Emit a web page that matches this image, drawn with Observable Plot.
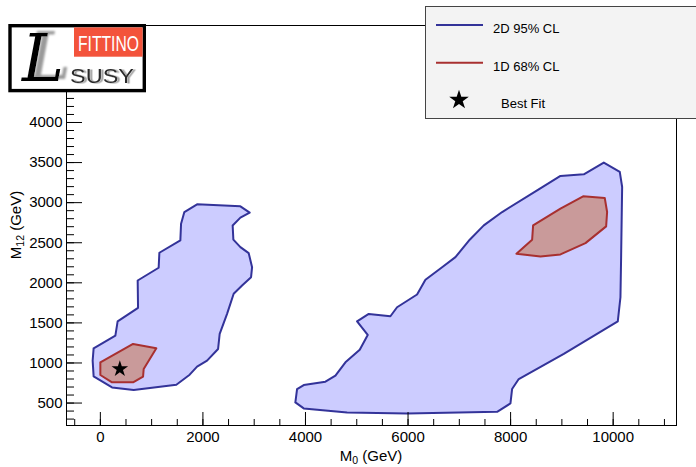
<!DOCTYPE html>
<html>
<head>
<meta charset="utf-8">
<script src="https://cdn.jsdelivr.net/npm/d3@7"></script>
<script src="https://cdn.jsdelivr.net/npm/@observablehq/plot@0.6"></script>
<style>
  html, body { margin: 0; padding: 0; background: #fff; }
  #chart { position: relative; width: 696px; height: 467px; overflow: hidden; }
</style>
</head>
<body>
<div id="chart"></div>
<script>
// Contour outlines as [M0, M12] vertices in GeV.
// 2D 95% CL region at low M0
const region95Low = [
  [-131, 1183], [293, 1341], [337, 1520], [735, 1688], [728, 2029], [1137, 2188],
  [1151, 2375], [1560, 2529], [1574, 2738], [1638, 2883], [1886, 2979], [2731, 2954],
  [2912, 2875], [2731, 2813], [2580, 2716], [2594, 2538], [2731, 2445], [2893, 2370],
  [2959, 2195], [2939, 2070], [2764, 1966], [2600, 1863], [2471, 1613], [2327, 1363],
  [2296, 1175], [2081, 1029], [1886, 954], [1742, 854], [1482, 729], [650, 663],
  [228, 695], [-131, 833], [-150, 1029]
];
// 2D 95% CL region at high M0
const region95High = [
  [3803, 508], [3836, 675], [3966, 725], [4389, 766], [4584, 841], [4779, 1008],
  [5058, 1166], [5214, 1350], [5006, 1520], [5234, 1612], [5656, 1583], [5786, 1695],
  [6176, 1854], [6339, 2038], [6664, 2195], [6924, 2320], [7203, 2538], [7477, 2716],
  [7835, 2883], [8517, 3154], [8972, 3333], [9427, 3354], [9817, 3500], [10129, 3383],
  [10175, 3195], [10155, 2320], [10142, 1820], [10090, 1520], [9037, 1113], [8159, 800],
  [8029, 675], [7997, 495], [7737, 391], [5982, 370], [4812, 383], [3966, 433]
];
// 1D 68% CL region at low M0
const region68Low = [
  [0, 1008], [638, 1237], [1092, 1183], [845, 925], [833, 829], [638, 758],
  [228, 758], [0, 850]
];
// 1D 68% CL region at high M0
const region68High = [
  [8114, 2363], [8420, 2538], [8439, 2716], [8972, 2925], [9414, 3079], [9836, 3058],
  [9882, 2883], [9863, 2704], [9460, 2495], [8972, 2354], [8582, 2329]
];
// Best-fit point
const bestFit = [[380, 925]];

// Axis ticks
const xMajorTicks = [0, 2000, 4000, 6000, 8000, 10000];
const xMinorTicks = d3.range(-500, 11001, 500);
const yMajorTicks = [500, 1000, 1500, 2000, 2500, 3000, 3500, 4000, 4500, 5000];
const yLabelTicks = [500, 1000, 1500, 2000, 2500, 3000, 3500, 4000];
const yMinorTicks = d3.range(300, 5201, 100);

// Legend entries
const legendLabels = ["2D 95% CL", "1D 68% CL", "Best Fit"];

const fill95 = "#ccccff", stroke95 = "#333399";
const fill68 = "#c99a9a", stroke68 = "#a83030";
const FONT = "'Liberation Sans', Arial, Helvetica, sans-serif";

const W = 696, H = 467;
const mL = 66, mR = 20, mT = 25, mB = 42;
const frameW = W - mL - mR, frameH = H - mT - mB;

const ring = pts => pts.concat([pts[0]]).map(([m0, m12]) => ({m0, m12}));

const contour = (pts, fill, stroke) =>
  Plot.line(ring(pts), {x: "m0", y: "m12", fill, stroke, strokeWidth: 2, strokeLinejoin: "round"});

const svg = Plot.plot({
  width: W, height: H,
  marginLeft: mL, marginRight: mR, marginTop: mT, marginBottom: mB,
  style: {fontFamily: FONT, fontSize: "15px", color: "black", background: "white"},
  x: {domain: [-660, 11235]},
  y: {domain: [220, 5210]},
  marks: [
    contour(region95High, fill95, stroke95),
    contour(region95Low, fill95, stroke95),
    contour(region68High, fill68, stroke68),
    contour(region68Low, fill68, stroke68),
    Plot.dot(bestFit, {x: d => d[0], y: d => d[1], symbol: "star", r: 5.2, fill: "black", stroke: "none"}),
    // inward ticks along the left and bottom edges
    Plot.tickY(yMinorTicks, {y: d => d, insetRight: frameW - 8, stroke: "black", strokeWidth: 1}),
    Plot.tickY(yMajorTicks, {y: d => d, insetRight: frameW - 16, stroke: "black", strokeWidth: 1}),
    Plot.tickX(xMinorTicks, {x: d => d, insetTop: frameH - 6, stroke: "black", strokeWidth: 1}),
    Plot.tickX(xMajorTicks, {x: d => d, insetTop: frameH - 13, stroke: "black", strokeWidth: 1}),
    Plot.axisX(xMajorTicks, {tickSize: 0, tickPadding: 6, label: null, fontSize: 15, tickFormat: d => String(d)}),
    Plot.axisY(yLabelTicks, {tickSize: 0, tickPadding: 4, label: null, fontSize: 15, tickFormat: d => String(d)}),
    Plot.frame({stroke: "black", strokeWidth: 1})
  ]
});

const s = d3.select(svg);

// Drop shadows for the logo lettering
const defs = s.append("defs");
defs.append("filter").attr("id", "shadowL").attr("x", "-20%").attr("y", "-20%").attr("width", "160%").attr("height", "140%")
  .append("feDropShadow").attr("dx", 7).attr("dy", -2).attr("stdDeviation", 0.8)
  .attr("flood-color", "#9a9a9a").attr("flood-opacity", 1);
defs.append("filter").attr("id", "shadowS").attr("x", "-10%").attr("y", "-20%").attr("width", "130%").attr("height", "150%")
  .append("feDropShadow").attr("dx", 2.5).attr("dy", 0.5).attr("stdDeviation", 0.6)
  .attr("flood-color", "#a0a0a0").attr("flood-opacity", 1);

// Axis titles with subscripts
const xt = s.append("text")
  .attr("x", (mL + W - mR) / 2).attr("y", 461)
  .attr("text-anchor", "middle").attr("font-family", FONT).attr("font-size", 15).attr("fill", "black");
xt.append("tspan").text("M");
xt.append("tspan").attr("font-size", 10.5).attr("dy", 3).text("0");
xt.append("tspan").attr("dy", -3).text(" (GeV)");

const yt = s.append("text")
  .attr("transform", `translate(20.5,${(mT + H - mB) / 2}) rotate(-90)`)
  .attr("text-anchor", "middle").attr("font-family", FONT).attr("font-size", 15).attr("fill", "black");
yt.append("tspan").text("M");
yt.append("tspan").attr("font-size", 10.5).attr("dy", 3).text("12");
yt.append("tspan").attr("dy", -3).text(" (GeV)");

// Legend box
const lg = s.append("g").attr("text-anchor", "start");
lg.append("rect").attr("x", 425.5).attr("y", 6.5).attr("width", 300).attr("height", 112)
  .attr("fill", "#f3f3f3").attr("stroke", "#444").attr("stroke-width", 1);
lg.append("line").attr("x1", 436).attr("x2", 483).attr("y1", 25).attr("y2", 25)
  .attr("stroke", stroke95).attr("stroke-width", 2);
lg.append("line").attr("x1", 436).attr("x2", 483).attr("y1", 62.7).attr("y2", 62.7)
  .attr("stroke", stroke68).attr("stroke-width", 2);
lg.append("path").attr("d", d3.symbol(d3.symbolStar, 10.3 * 10.3 / 0.8908)())
  .attr("transform", "translate(459,100)").attr("fill", "black");
const ltext = [[493, 33.3], [493, 71], [501, 108.3]];
legendLabels.forEach((t, i) => {
  lg.append("text").attr("x", ltext[i][0]).attr("y", ltext[i][1]).attr("text-anchor", "start")
    .attr("font-family", FONT).attr("font-size", 13).attr("fill", "black").text(t);
});

// Logo
const lo = s.append("g").attr("text-anchor", "start");
lo.append("rect").attr("x", 10).attr("y", 25.7).attr("width", 134.3).attr("height", 64.9)
  .attr("fill", "white").attr("stroke", "black").attr("stroke-width", 3.4);
lo.append("rect").attr("x", 74).attr("y", 27.4).attr("width", 68.6).attr("height", 29.3)
  .attr("fill", "#f3533b");
lo.append("text").attr("x", 78).attr("y", 50.5).attr("font-family", FONT).attr("font-size", 22)
  .attr("textLength", 61).attr("lengthAdjust", "spacingAndGlyphs").attr("fill", "white").text("FITTINO");
lo.append("text").attr("x", 70).attr("y", 83).attr("font-family", FONT).attr("font-size", 21)
  .attr("textLength", 64).attr("lengthAdjust", "spacingAndGlyphs").attr("fill", "#2b2b2b")
  .attr("filter", "url(#shadowS)").text("SUSY");
lo.append("text").attr("x", 22).attr("y", 81).attr("font-family", "'DejaVu Serif', serif")
  .attr("font-style", "italic").attr("font-size", 66)
  .attr("textLength", 42).attr("lengthAdjust", "spacingAndGlyphs").attr("fill", "black")
  .attr("filter", "url(#shadowL)").text("L");

document.getElementById("chart").appendChild(svg);
</script>
</body>
</html>
